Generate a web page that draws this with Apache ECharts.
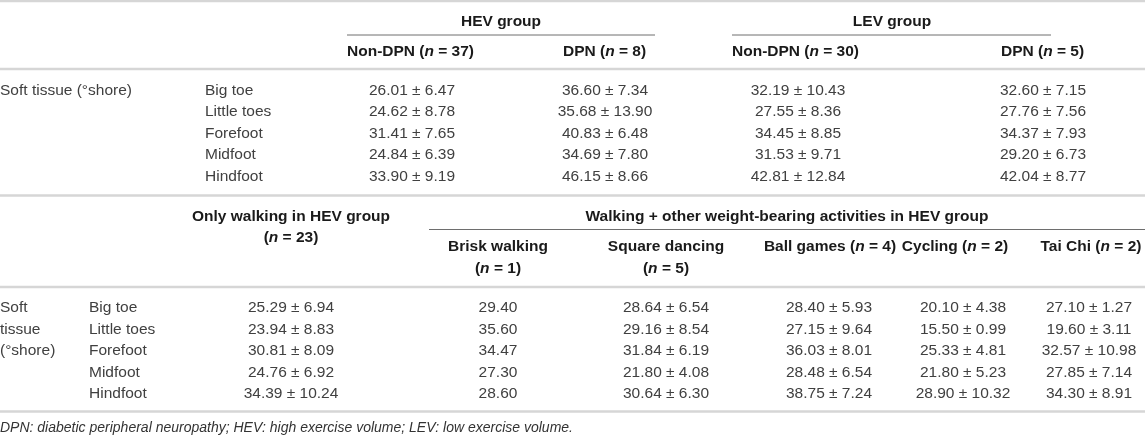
<!DOCTYPE html>
<html>
<head>
<meta charset="utf-8">
<script src="https://cdn.jsdelivr.net/npm/echarts@6/dist/echarts.min.js"></script>
<style>
html,body{margin:0;padding:0;background:#fff;}
#chart{width:1145px;height:436px;}
</style>
</head>
<body>
<div id="chart"></div>
<script>
// ---------- DATA ----------
const measureLabel1 = "Soft tissue (°shore)";
const measureLabel2 = ["Soft", "tissue", "(°shore)"];
const regions = ["Big toe", "Little toes", "Forefoot", "Midfoot", "Hindfoot"];

const groups1 = ["HEV group", "LEV group"];
const subHeaders1 = ["Non-DPN (n = 37)", "DPN (n = 8)", "Non-DPN (n = 30)", "DPN (n = 5)"];

const hevNonDpnMean = [26.01, 24.62, 31.41, 24.84, 33.90];
const hevNonDpnSd   = [6.47, 8.78, 7.65, 6.39, 9.19];
const hevDpnMean    = [36.60, 35.68, 40.83, 34.69, 46.15];
const hevDpnSd      = [7.34, 13.90, 6.48, 7.80, 8.66];
const levNonDpnMean = [32.19, 27.55, 34.45, 31.53, 42.81];
const levNonDpnSd   = [10.43, 8.36, 8.85, 9.71, 12.84];
const levDpnMean    = [32.60, 27.76, 34.37, 29.20, 42.04];
const levDpnSd      = [7.15, 7.56, 7.93, 6.73, 8.77];

const header2Left = ["Only walking in HEV group", "(n = 23)"];
const header2Right = "Walking + other weight-bearing activities in HEV group";
const subHeaders2 = [["Brisk walking", "(n = 1)"], ["Square dancing", "(n = 5)"], ["Ball games (n = 4)"], ["Cycling (n = 2)"], ["Tai Chi (n = 2)"]];

const onlyWalkMean  = [25.29, 23.94, 30.81, 24.76, 34.39];
const onlyWalkSd    = [6.94, 8.83, 8.09, 6.92, 10.24];
const briskMean     = [29.40, 35.60, 34.47, 27.30, 28.60];
const briskSd       = [null, null, null, null, null];
const squareMean    = [28.64, 29.16, 31.84, 21.80, 30.64];
const squareSd      = [6.54, 8.54, 6.19, 4.08, 6.30];
const ballMean      = [28.40, 27.15, 36.03, 28.48, 38.75];
const ballSd        = [5.93, 9.64, 8.01, 6.54, 7.24];
const cyclingMean   = [20.10, 15.50, 25.33, 21.80, 28.90];
const cyclingSd     = [4.38, 0.99, 4.81, 5.23, 10.32];
const taiChiMean    = [27.10, 19.60, 32.57, 27.85, 34.30];
const taiChiSd      = [1.27, 3.11, 10.98, 7.14, 8.91];

const footnote = "DPN: diabetic peripheral neuropathy; HEV: high exercise volume; LEV: low exercise volume.";

// ---------- LAYOUT (page coordinates used as axis values) ----------
const W = 1145, H = 436;
const FS = 15.5;
const FONT = "'Liberation Sans', Arial, Helvetica, sans-serif";
const BOLD_C = "#1a1a1a", REG_C = "#404040";

const t1 = {
  groupX: [501, 892], groupY: 21.5,
  underline: [[347, 655], [732, 1051]], underlineY: 35,
  subX: [347, 563, 732, 1001], subY: 51.5,
  ruleTop: 1, ruleMid: 69, ruleBot: 195.5,
  rowY: [90.5, 112, 133.5, 155, 176.5],
  measureX: 0, regionX: 205,
  valX: [412, 605, 798, 1043]
};
const t2 = {
  leftHeadX: 291, headY: [216.5, 238],
  rightHeadX: 787, rightHeadY: 216.5,
  underline: [429, 1145], underlineY: 229.5,
  subX: [498, 666, 830, 955, 1091], subY: [246.5, 268.5],
  ruleMid: 287, ruleBot: 411.5,
  rowY: [308, 329.5, 351, 372.5, 394],
  measureX: 0, regionX: 89,
  valX: [291, 498, 666, 829, 963, 1089]
};
const footY = 428;

// ---------- helpers ----------
function fmt(m, s) {
  return s == null ? m.toFixed(2) : m.toFixed(2) + " ± " + s.toFixed(2);
}
function richHeader(s) {
  const i = s.indexOf("(n =");
  if (i < 0) return "{b|" + s + "}";
  return "{b|" + s.slice(0, i + 1) + "}{bi|n}{b|" + s.slice(i + 2) + "}";
}

const texts = [];   // {x,y,text,align,kind}
const rules = [];   // {x1,x2,y,kind}

// table 1
groups1.forEach((g, i) => texts.push({x: t1.groupX[i], y: t1.groupY, text: richHeader(g), align: "center", kind: "rich"}));
t1.underline.forEach(u => rules.push({x1: u[0], x2: u[1], y: t1.underlineY, kind: "thin"}));
subHeaders1.forEach((s, i) => texts.push({x: t1.subX[i], y: t1.subY, text: richHeader(s), align: "left", kind: "rich"}));
rules.push({x1: 0, x2: W, y: t1.ruleTop, kind: "rule"});
rules.push({x1: 0, x2: W, y: t1.ruleMid, kind: "rule"});
rules.push({x1: 0, x2: W, y: t1.ruleBot, kind: "rule"});
texts.push({x: t1.measureX, y: t1.rowY[0], text: measureLabel1, align: "left", kind: "reg"});
const cols1 = [[hevNonDpnMean, hevNonDpnSd], [hevDpnMean, hevDpnSd], [levNonDpnMean, levNonDpnSd], [levDpnMean, levDpnSd]];
regions.forEach((r, ri) => {
  texts.push({x: t1.regionX, y: t1.rowY[ri], text: r, align: "left", kind: "reg"});
  cols1.forEach((c, ci) => texts.push({x: t1.valX[ci], y: t1.rowY[ri], text: fmt(c[0][ri], c[1][ri]), align: "center", kind: "reg"}));
});

// table 2
header2Left.forEach((h, i) => texts.push({x: t2.leftHeadX, y: t2.headY[i], text: richHeader(h), align: "center", kind: "rich"}));
texts.push({x: t2.rightHeadX, y: t2.rightHeadY, text: richHeader(header2Right), align: "center", kind: "rich"});
rules.push({x1: t2.underline[0], x2: t2.underline[1], y: t2.underlineY, kind: "thin"});
subHeaders2.forEach((lines, i) => lines.forEach((l, li) => texts.push({x: t2.subX[i], y: t2.subY[li], text: richHeader(l), align: "center", kind: "rich"})));
rules.push({x1: 0, x2: W, y: t2.ruleMid, kind: "rule"});
rules.push({x1: 0, x2: W, y: t2.ruleBot, kind: "rule"});
measureLabel2.forEach((m, i) => texts.push({x: t2.measureX, y: t2.rowY[i], text: m, align: "left", kind: "reg"}));
const cols2 = [[onlyWalkMean, onlyWalkSd], [briskMean, briskSd], [squareMean, squareSd], [ballMean, ballSd], [cyclingMean, cyclingSd], [taiChiMean, taiChiSd]];
regions.forEach((r, ri) => {
  texts.push({x: t2.regionX, y: t2.rowY[ri], text: r, align: "left", kind: "reg"});
  cols2.forEach((c, ci) => texts.push({x: t2.valX[ci], y: t2.rowY[ri], text: fmt(c[0][ri], c[1][ri]), align: "center", kind: "reg"}));
});
texts.push({x: 0, y: footY, text: footnote, align: "left", kind: "foot"});

const rich = {
  b:  {fontFamily: FONT, fontSize: FS, fontWeight: "bold", fill: BOLD_C, color: BOLD_C},
  bi: {fontFamily: FONT, fontSize: FS, fontWeight: "bold", fontStyle: "italic", fill: BOLD_C, color: BOLD_C}
};

const chart = echarts.init(document.getElementById("chart"), null, {renderer: "canvas"});
chart.setOption({
  animation: false,
  backgroundColor: "#ffffff",
  grid: {left: 0, right: 0, top: 0, bottom: 0},
  xAxis: {type: "value", min: 0, max: W, show: false},
  yAxis: {type: "value", min: 0, max: H, inverse: true, show: false},
  series: [
    {
      type: "custom",
      coordinateSystem: "cartesian2d",
      data: rules.map(r => [r.x1, r.y, r.x2, r.kind === "thin" ? 1 : 0]),
      renderItem: function (params, api) {
        const p1 = api.coord([api.value(0), api.value(1)]);
        const p2 = api.coord([api.value(2), api.value(1)]);
        const thin = api.value(3) === 1;
        return {
          type: "line",
          shape: {x1: p1[0], y1: p1[1], x2: p2[0], y2: p2[1]},
          style: {stroke: thin ? "#6e6e6e" : "#d6d6d6", lineWidth: thin ? 1 : 2.5}
        };
      }
    },
    {
      type: "custom",
      coordinateSystem: "cartesian2d",
      data: texts.map((t, i) => [t.x, t.y, i]),
      renderItem: function (params, api) {
        const t = texts[api.value(2)];
        const p = api.coord([api.value(0), api.value(1)]);
        const style = {text: t.text, x: 0, y: 0, align: t.align, verticalAlign: "middle"};
        if (t.kind === "rich") {
          style.rich = rich;
          style.fill = BOLD_C;
          style.fontFamily = FONT; style.fontSize = FS; style.fontWeight = "bold";
        } else if (t.kind === "foot") {
          style.fill = "#333333"; style.fontFamily = FONT; style.fontSize = 14; style.fontStyle = "italic";
        } else {
          style.fill = REG_C; style.fontFamily = FONT; style.fontSize = FS; style.fontWeight = "normal";
        }
        return {type: "text", x: p[0], y: p[1], style: style};
      }
    }
  ]
});
</script>
</body>
</html>
